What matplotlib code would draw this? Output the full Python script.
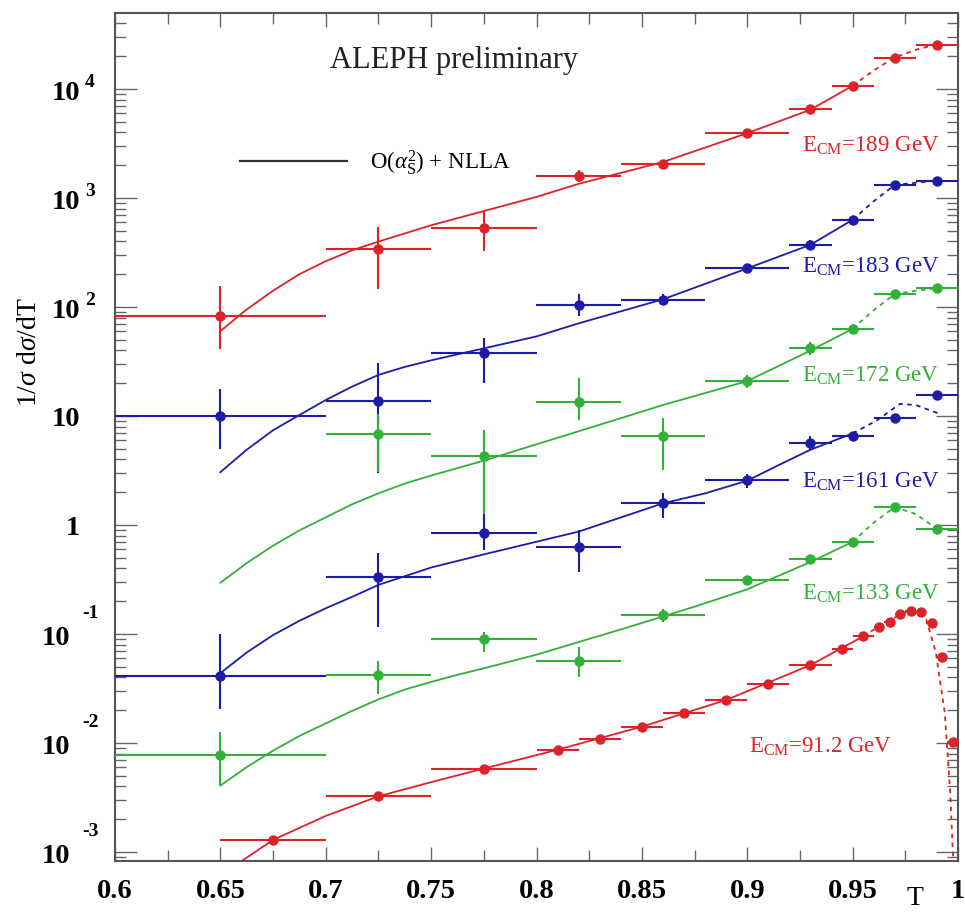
import numpy as np
import matplotlib
matplotlib.use("Agg")
import matplotlib.pyplot as plt
from matplotlib.lines import Line2D
from matplotlib import ticker, transforms

plt.rcParams['font.family'] = ['Liberation Serif', 'DejaVu Serif']
plt.rcParams['mathtext.fontset'] = 'custom'
plt.rcParams['mathtext.rm'] = 'Liberation Serif'
plt.rcParams['mathtext.it'] = 'Liberation Serif:italic'
plt.rcParams['mathtext.bf'] = 'Liberation Serif:bold'

# thrust bins used at the LEP2 energies
T_bins = [0.65, 0.725, 0.775, 0.82, 0.86, 0.90, 0.93, 0.95, 0.97, 0.99]
dT_bins = [0.05, 0.025, 0.025, 0.02, 0.02, 0.02, 0.01, 0.01, 0.01, 0.01]

# 189 GeV
y_189 = [82, 344, 535, 1590, 2040, 3940, 6520, 10700, 19400, 25500]
lo_189 = [41, 145, 325, 1410, 1850, 3700, 6100, 10100, 18500, 24500]
hi_189 = [155, 546, 775, 1820, 2250, 4200, 6950, 11300, 20300, 26500]

# 183 GeV
y_183 = [10.1, 13.8, 37.8, 105, 117, 226, 372, 630, 1320, 1435]
lo_183 = [5.0, 3.0, 20, 82, 105, 210, 335, 600, 1260, 1380]
hi_183 = [17.8, 30.7, 52, 131, 132, 245, 410, 665, 1380, 1490]

# 172 GeV (no entry in the first bin)
y_172 = [6.8, 4.3, 13.5, 6.5, 21, 42, 63, 131, 149]
lo_172 = [3.05, 1.2, 9.1, 3.2, 18, 36, 57, 122, 141]
hi_172 = [10.5, 7.4, 22.4, 9.5, 24, 48, 70, 140, 157]

# 161 GeV
y_161 = [0.041, 0.336, 0.845, 0.63, 1.58, 2.57, 5.7, 6.5, 9.5, 15.7]
lo_161 = [0.0204, 0.117, 0.59, 0.37, 1.17, 2.2, 4.9, 5.9, 8.9, 14.9]
hi_161 = [0.1, 0.556, 1.26, 0.89, 1.95, 2.95, 6.5, 7.2, 10.1, 16.5]

# 133 GeV
y_133 = [0.0078, 0.042, 0.089, 0.057, 0.148, 0.315, 0.49, 0.70, 1.46, 0.92]
lo_133 = [0.0041, 0.028, 0.068, 0.040, 0.128, 0.29, 0.45, 0.66, 1.39, 0.88]
hi_133 = [0.0126, 0.056, 0.105, 0.076, 0.17, 0.34, 0.53, 0.74, 1.53, 0.96]

# 91.2 GeV, finer binning
T_91 = [0.675, 0.725, 0.775, 0.81, 0.83, 0.85, 0.87, 0.89, 0.91, 0.93, 0.945, 0.955,
        0.9625, 0.9675, 0.9725, 0.9775, 0.9825, 0.9875, 0.9925, 0.9975]
dT_91 = [0.025, 0.025, 0.025, 0.01, 0.01, 0.01, 0.01, 0.01, 0.01, 0.01, 0.005, 0.005,
         0.0025, 0.0025, 0.0025, 0.0025, 0.0025, 0.0025, 0.0025, 0.0025]
y_91 = [0.00128, 0.00324, 0.00582, 0.00867, 0.0109, 0.0141, 0.0189, 0.0248, 0.0347, 0.0518,
        0.0724, 0.0951, 0.115, 0.130, 0.151, 0.161, 0.158, 0.126, 0.0617, 0.0102]

# O(as^2)+NLLA curves: fitted range (solid) and extrapolation (dashed)
thT_189 = [0.65, 0.6625, 0.675, 0.6875, 0.70, 0.7125, 0.725, 0.75, 0.775, 0.80, 0.82, 0.86,
           0.90, 0.93, 0.95]
th_189 = [60, 95, 141, 200, 263, 331, 398, 562, 759, 1023, 1349, 2138, 3936, 6457, 10715]
exT_189 = [0.95, 0.96, 0.97, 0.98, 0.99]
ex_189 = [10715, 14800, 19500, 22900, 25700]

thT_183 = [0.65, 0.6625, 0.675, 0.6875, 0.70, 0.7125, 0.725, 0.7375, 0.75, 0.775, 0.80, 0.82,
           0.86, 0.90, 0.93, 0.95]
th_183 = [3.05, 4.9, 7.4, 10.2, 14.0, 18.6, 23.8, 28.2, 32.4, 41.7, 53.7, 70.8, 117.5, 226,
          372, 631]
exT_183 = [0.95, 0.96, 0.97, 0.98, 0.99]
ex_183 = [631, 933, 1318, 1380, 1445]

thT_172 = [0.65, 0.6625, 0.675, 0.6875, 0.70, 0.7125, 0.725, 0.7375, 0.75, 0.775, 0.79, 0.82,
           0.86, 0.90, 0.93, 0.95]
th_172 = [0.295, 0.447, 0.646, 0.891, 1.175, 1.549, 1.95, 2.40, 2.84, 3.89, 4.79, 7.24,
          12.6, 20.9, 39.8, 63.1]
exT_172 = [0.95, 0.96, 0.97, 0.98, 0.99]
ex_172 = [63.1, 93.3, 131.8, 141, 148]

thT_161 = [0.65, 0.6625, 0.675, 0.6875, 0.70, 0.7125, 0.725, 0.75, 0.775, 0.82, 0.86, 0.88,
           0.90, 0.915, 0.93, 0.95]
th_161 = [0.0437, 0.0676, 0.0977, 0.132, 0.172, 0.219, 0.282, 0.407, 0.537, 0.869, 1.58,
          1.95, 2.55, 3.55, 4.90, 6.92]
exT_161 = [0.95, 0.9615, 0.9724, 0.98, 0.991]
ex_161 = [6.92, 9.1, 12.9, 12.6, 10.5]

thT_133 = [0.65, 0.6625, 0.675, 0.6875, 0.70, 0.7125, 0.725, 0.7375, 0.75, 0.7625, 0.775,
           0.80, 0.84, 0.875, 0.90, 0.93, 0.95]
th_133 = [0.00407, 0.0060, 0.0085, 0.0116, 0.0151, 0.0197, 0.0251, 0.0309, 0.0363, 0.0422,
          0.0484, 0.0646, 0.110, 0.178, 0.257, 0.457, 0.70]
exT_133 = [0.95, 0.96, 0.97, 0.98, 0.99]
ex_133 = [0.70, 1.05, 1.46, 1.26, 0.92]

thT_91 = [0.655, 0.675, 0.70, 0.725, 0.75, 0.775, 0.81, 0.85, 0.89, 0.93, 0.955]
th_91 = [0.00071, 0.00129, 0.00214, 0.00324, 0.00437, 0.00582, 0.00867, 0.0141, 0.0248, 0.0518, 0.0951]
exT_91 = [0.955, 0.965, 0.975, 0.98, 0.985, 0.9895, 0.9937, 0.9963, 0.998]
ex_91 = [0.0951, 0.126, 0.158, 0.162, 0.135, 0.0676, 0.019, 0.00355, 0.00063]

RED = '#dc2328'
BLUE = '#1c1ca6'
GREEN = '#33b03a'

W, H = 965, 919
fig = plt.figure(figsize=(W / 100, H / 100), dpi=100)
ax = fig.add_axes([115 / W, 1 - 861 / H, (958 - 115) / W, (861 - 13) / H])
ax.set_yscale('log')
ax.set_xlim(0.6, 1.0)
ax.set_ylim(8.26e-4, 4.98e4)


def data(T, dT, y, lo, hi, color):
    y = np.array(y)
    yerr = None
    if lo is not None:
        yerr = [y - np.array(lo), np.array(hi) - y]
    ax.errorbar(T, y, xerr=dT, yerr=yerr, fmt='o', color=color, ms=6.5,
                elinewidth=1.5, capsize=0, zorder=3)


def theory(T, y, Tx, yx, color):
    ax.plot(T, y, color=color, lw=1.3, zorder=2)
    ax.plot(Tx, yx, color=color, lw=1.3, ls=(0, (2.5, 2.5)), zorder=2)


theory(thT_189, th_189, exT_189, ex_189, RED)
theory(thT_183, th_183, exT_183, ex_183, BLUE)
theory(thT_172, th_172, exT_172, ex_172, GREEN)
theory(thT_161, th_161, exT_161, ex_161, BLUE)
theory(thT_133, th_133, exT_133, ex_133, GREEN)
theory(thT_91, th_91, exT_91, ex_91, RED)

data(T_bins, dT_bins, y_189, lo_189, hi_189, RED)
data(T_bins, dT_bins, y_183, lo_183, hi_183, BLUE)
data(T_bins[1:], dT_bins[1:], y_172, lo_172, hi_172, GREEN)
data(T_bins, dT_bins, y_161, lo_161, hi_161, BLUE)
data(T_bins, dT_bins, y_133, lo_133, hi_133, GREEN)
data(T_91, dT_91, y_91, None, None, RED)

# energy labels next to each distribution
lab = {'fontsize': 16.5}
ax.text(0.926, 2640, r'E$_{\rm CM}$=189 GeV', color=RED, **lab)
ax.text(0.926, 205, r'E$_{\rm CM}$=183 GeV', color=BLUE, **lab)
ax.text(0.926, 20.5, r'E$_{\rm CM}$=172 GeV', color=GREEN, **lab)
ax.text(0.926, 2.18, r'E$_{\rm CM}$=161 GeV', color=BLUE, **lab)
ax.text(0.926, 0.205, r'E$_{\rm CM}$=133 GeV', color=GREEN, **lab)
ax.text(0.901, 0.0081, r'E$_{\rm CM}$=91.2 GeV', color=RED, **lab)

ax.text(0.255, 0.935, 'ALEPH preliminary', transform=ax.transAxes, fontsize=22,
        color='#222222')

ax.legend([Line2D([], [], color='#333333', lw=1.6)], [r'O($\alpha_{\rm S}^{2}$) + NLLA'],
          loc='center left', bbox_to_anchor=(0.148, 0.824), frameon=False,
          fontsize=16.5, handlelength=4.7, handletextpad=1.0, borderpad=0,
          borderaxespad=0)

# frame and ticks
for s in ax.spines.values():
    s.set_color('#555555')
    s.set_linewidth(1.5)
ax.xaxis.set_major_locator(ticker.MultipleLocator(0.05))
ax.xaxis.set_minor_locator(ticker.MultipleLocator(0.025))
ax.xaxis.set_major_formatter(ticker.FuncFormatter(lambda v, p: '%g' % round(v, 3)))
ax.yaxis.set_major_locator(ticker.LogLocator(base=10, numticks=20))
ax.yaxis.set_minor_locator(ticker.LogLocator(base=10, subs=np.arange(2, 10), numticks=20))
ax.yaxis.set_major_formatter(ticker.NullFormatter())
ax.yaxis.set_minor_formatter(ticker.NullFormatter())
ax.tick_params(which='both', direction='in', top=True, right=True, color='#666666')
ax.tick_params(axis='x', which='major', length=10, width=1.0, pad=13, labelsize=20.5)
ax.tick_params(axis='x', which='minor', length=8, width=1.0)
ax.tick_params(axis='y', which='major', length=16, width=1.0)
ax.tick_params(axis='y', which='minor', length=8, width=1.0)
for t in ax.get_xticklabels():
    t.set_fontweight('bold')

# decade labels on the y axis, drawn as base plus raised exponent
decades = [-3, -2, -1, 0, 1, 2, 3, 4]
ytr = transforms.blended_transform_factory(fig.transFigure, ax.transData)
for k in decades:
    v = 10.0 ** k
    if k == 0 or k == 1:
        ax.text(80 / W, v, '1' if k == 0 else '10', transform=transforms.offset_copy(
            ytr, fig=fig, y=-2.5, units='points'), ha='right', va='center',
            fontsize=20.5, fontweight='bold')
        continue
    xb = 80 if k > 0 else 70
    xe = 85 if k > 0 else 82
    ax.text(xb / W, v, '10', transform=transforms.offset_copy(
        ytr, fig=fig, y=-3, units='points'), ha='right', va='center',
        fontsize=20.5, fontweight='bold')
    ax.text(xe / W, v, str(k), transform=transforms.offset_copy(
        ytr, fig=fig, y=5 if k > 0 else 14.5, units='points'), ha='left', va='center',
        fontsize=14, fontweight='bold')

ax.set_ylabel(r'1/$\sigma$ d$\sigma$/dT', fontsize=20)
ax.yaxis.set_label_coords(-0.0866, 0.600)
ax.set_xlabel('T', fontsize=20)
ax.xaxis.set_label_coords(0.949, -0.0295)

fig.savefig('out.png', dpi=100)
